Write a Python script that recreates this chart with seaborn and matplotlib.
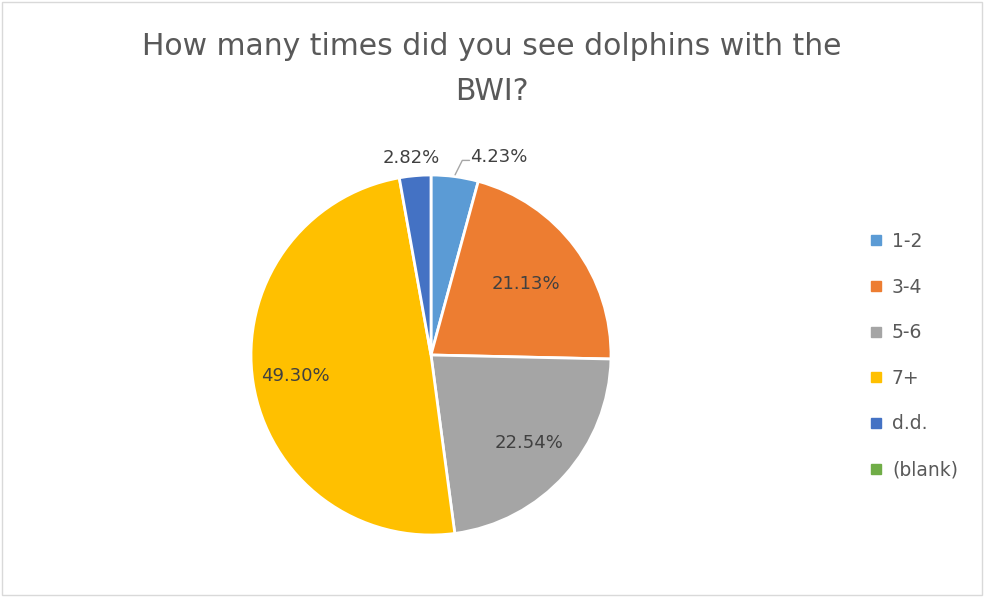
import numpy as np
import matplotlib
matplotlib.use("Agg")
import matplotlib.pyplot as plt
from matplotlib.lines import Line2D
from matplotlib.patches import Rectangle
import seaborn as sns

categories = ["1-2", "3-4", "5-6", "7+", "d.d.", "(blank)"]
shares = [4.23, 21.13, 22.54, 49.30, 2.82, 0.0]
colors_hex = ["#5B9BD5", "#ED7D31", "#A5A5A5", "#FFC000", "#4472C4", "#70AD47"]
title = "How many times did you see dolphins with the\nBWI?"

sns.set_theme(style="white")
plt.rcParams["font.family"] = ["DejaVu Sans"]
palette = sns.color_palette(colors_hex)
text_color = "#595959"
label_color = "#404040"

fig = plt.figure(figsize=(9.84, 5.97), dpi=100)
fig.patch.set_facecolor("white")
fig.patches.append(Rectangle((0.002, 0.003), 0.996, 0.994, transform=fig.transFigure,
                             fill=False, edgecolor="#D9D9D9", linewidth=1))

# pie axes: center ~ (431, 355) px, radius ~180 px
cx, cy, r = 431, 355, 180
ax = fig.add_axes([(cx - r) / 984, (597 - cy - r) / 597, 2 * r / 984, 2 * r / 597])

vals = [v for v in shares if v > 0]
cols = [palette[i] for i, v in enumerate(shares) if v > 0]
wedges, _ = ax.pie(vals, colors=cols, startangle=90, counterclock=False,
                   wedgeprops=dict(edgecolor="white", linewidth=2))
ax.set_xlim(-1, 1)
ax.set_ylim(-1, 1)
ax.set_aspect("equal")
ax.axis("off")

# percentage labels inside the bigger slices
for w, v in zip(wedges, vals):
    if v < 5:
        continue
    mid = np.deg2rad((w.theta1 + w.theta2) / 2)
    d = 0.76 if v > 40 else (0.66 if v < 22 else 0.73)
    ax.text(d * np.cos(mid), d * np.sin(mid), f"{v:.2f}%", ha="center", va="center",
            fontsize=13, color=label_color)

# small slices labelled outside
for w, v in zip(wedges, vals):
    if v >= 5:
        continue
    mid = np.deg2rad((w.theta1 + w.theta2) / 2)
    lab = f"{v:.2f}%"
    if np.cos(mid) > 0:
        x0, y0 = 1.01 * np.cos(mid), 1.01 * np.sin(mid)
        xe, ye = x0 + 0.04, y0 + 0.08
        ax.plot([x0, xe, xe + 0.04], [y0, ye, ye], color="#A6A6A6", lw=1,
                clip_on=False)
        ax.text(xe + 0.045, 1.1, lab, ha="left", va="center",
                fontsize=13, color=label_color)
    else:
        ax.text(1.1 * np.cos(mid) - 0.01, 1.1 * np.sin(mid), lab, ha="center", va="center",
                fontsize=13, color=label_color)

fig.text(0.5, 0.884, title, ha="center", va="center", fontsize=21.5,
         color=text_color, linespacing=1.7)

handles = [Line2D([0], [0], marker="s", linestyle="none", markersize=6.5,
                  markerfacecolor=c, markeredgecolor=c) for c in palette]
leg = fig.legend(handles, categories, loc="center left", bbox_to_anchor=(0.875, 0.4045),
                 frameon=False, fontsize=13.5, labelspacing=1.42, handlelength=0.8,
                 handletextpad=0.45, borderaxespad=0)
for t in leg.get_texts():
    t.set_color(text_color)

fig.savefig("out.png", dpi=100)
